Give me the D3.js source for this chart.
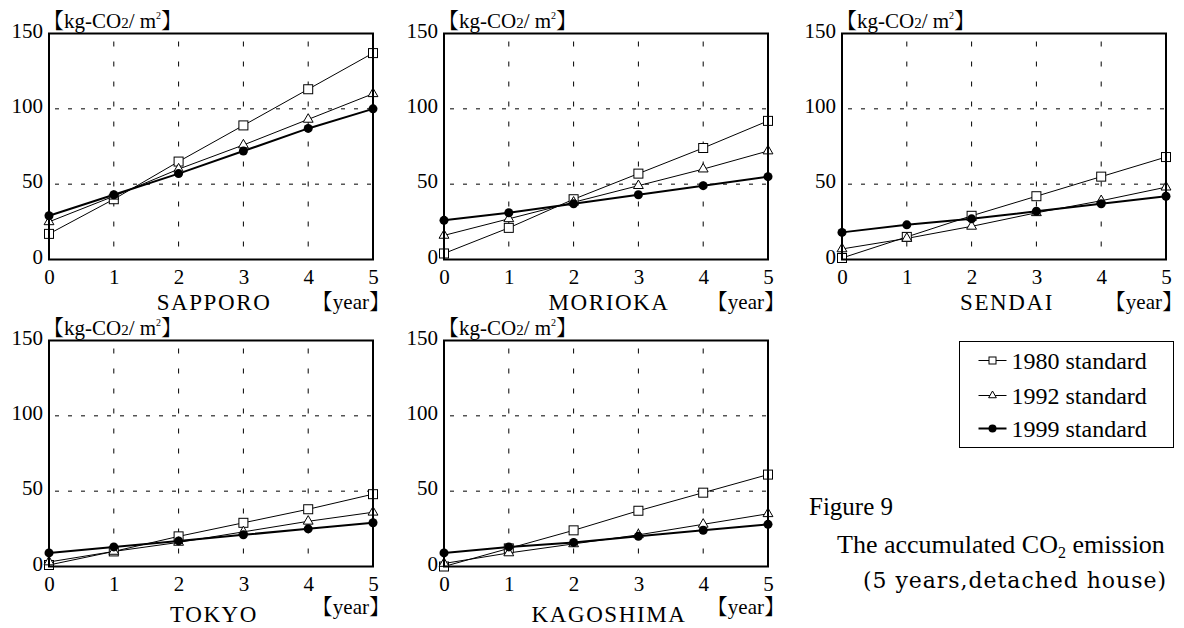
<!DOCTYPE html>
<html>
<head>
<meta charset="utf-8">
<script src="https://cdn.jsdelivr.net/npm/d3@7"></script>
<style>
  body { margin: 0; background: #fff; }
  text { font-family: "Liberation Serif", "Noto Serif CJK JP", "Noto Sans CJK JP", serif; fill: #000; }
</style>
</head>
<body>
<div id="chart"></div>
<script>
// data
var years = [0, 1, 2, 3, 4, 5];
var cities = ["SAPPORO", "MORIOKA", "SENDAI", "TOKYO", "KAGOSHIMA"];
var seriesNames = ["1980 standard", "1992 standard", "1999 standard"];
var yTicks = [0, 50, 100, 150];

var std1980 = [
  [17, 40, 65, 89, 113, 137],
  [4, 21, 40, 57, 74, 92],
  [1, 15, 29, 42, 55, 68],
  [1, 10, 20, 29, 38, 48],
  [0, 12, 24, 37, 49, 61]
];
var std1992 = [
  [25, 42, 60, 76, 93, 110],
  [16, 27, 38, 49, 60, 72],
  [7, 14, 22, 31, 39, 48],
  [3, 10, 16, 23, 30, 36],
  [2, 9, 15, 21, 28, 35]
];
var std1999 = [
  [29, 43, 57, 72, 87, 100],
  [26, 31, 37, 43, 49, 55],
  [18, 23, 27, 32, 37, 42],
  [9, 13, 17, 21, 25, 29],
  [9, 13, 16, 20, 24, 28]
];

var W = 1184, H = 628;
var pw = 324, ph = 226;
var lefts = [49, 444, 842, 49, 444];
var tops = [33.5, 33.5, 33.5, 340.5, 340.5];
var cityDy = [50, 50, 50, 55, 55];
var yearDy = [49, 49, 49, 47, 47];

var svg = d3.select("#chart").append("svg")
    .attr("width", W)
    .attr("height", H);

var x = d3.scaleLinear().domain([0, 5]).range([0, pw]);
var y = d3.scaleLinear().domain([0, 150]).range([ph, 0]);

var line = d3.line()
    .x(function(d, i) { return x(years[i]); })
    .y(function(d) { return y(d); });

var tri = d3.symbol().type(d3.symbolTriangle).size(42);

cities.forEach(function(city, c) {
  var g = svg.append("g")
      .attr("transform", "translate(" + lefts[c] + "," + tops[c] + ")");

  /* dashed grid */
  g.append("g")
      .selectAll("line")
      .data([1, 2, 3, 4])
      .enter().append("line")
      .attr("x1", function(d) { return x(d); })
      .attr("x2", function(d) { return x(d); })
      .attr("y1", 0)
      .attr("y2", ph)
      .attr("stroke", "#000")
      .attr("stroke-width", 1)
      .attr("stroke-dasharray", "5,15")
      .attr("stroke-dashoffset", -8);

  g.append("g")
      .selectAll("line")
      .data([50, 100])
      .enter().append("line")
      .attr("x1", 0)
      .attr("x2", pw)
      .attr("y1", function(d) { return y(d); })
      .attr("y2", function(d) { return y(d); })
      .attr("stroke", "#000")
      .attr("stroke-width", 1)
      .attr("stroke-dasharray", "4,9")
      .attr("stroke-dashoffset", -6);

  /* axes: labels only */
  var ya = g.append("g")
      .attr("transform", "translate(-6,-3)")
      .call(d3.axisLeft(y).tickValues(yTicks).tickFormat(d3.format("d")).tickSize(0).tickPadding(0));
  ya.select(".domain").remove();
  ya.selectAll("text")
      .style("font-family", "Liberation Serif")
      .style("font-size", "21px");

  var xa = g.append("g")
      .attr("transform", "translate(0," + ph + ")")
      .call(d3.axisBottom(x).tickValues(years).tickFormat(d3.format("d")).tickSize(0).tickPadding(10));
  xa.select(".domain").remove();
  xa.selectAll("text")
      .style("font-family", "Liberation Serif")
      .style("font-size", "21px");

  /* series */
  var data = [std1980[c], std1992[c], std1999[c]];
  data.forEach(function(vals, s) {
    g.append("path")
        .datum(vals)
        .attr("d", line)
        .attr("fill", "none")
        .attr("stroke", "#000")
        .attr("stroke-width", s == 2 ? 2 : 1);
  });

  g.selectAll("rect.m1980")
      .data(std1980[c])
      .enter().append("rect")
      .attr("x", function(d, i) { return x(years[i]) - 4.5; })
      .attr("y", function(d) { return y(d) - 4.5; })
      .attr("width", 9)
      .attr("height", 9)
      .attr("fill", "#fff")
      .attr("stroke", "#000")
      .attr("stroke-width", 1);

  g.selectAll("path.m1992")
      .data(std1992[c])
      .enter().append("path")
      .attr("d", tri)
      .attr("transform", function(d, i) { return "translate(" + x(years[i]) + "," + y(d) + ")"; })
      .attr("fill", "#fff")
      .attr("stroke", "#000")
      .attr("stroke-width", 1);

  g.selectAll("circle.m1999")
      .data(std1999[c])
      .enter().append("circle")
      .attr("cx", function(d, i) { return x(years[i]); })
      .attr("cy", function(d) { return y(d); })
      .attr("r", 4.5)
      .attr("fill", "#000");

  /* frame */
  g.append("rect")
      .attr("width", pw)
      .attr("height", ph)
      .attr("fill", "none")
      .attr("stroke", "#000")
      .attr("stroke-width", 2);

  /* unit label */
  var u = g.append("text")
      .attr("x", -6)
      .attr("y", -6)
      .style("font-size", "21px");
  u.append("tspan").text("【kg-CO");
  u.append("tspan").style("font-size", "15px").text("2");
  u.append("tspan").text("/ m");
  u.append("tspan").attr("dy", -9).style("font-size", "10px").text("2");
  u.append("tspan").attr("dy", 9).text("】");

  g.append("text")
      .attr("x", pw / 2 + 3)
      .attr("y", ph + cityDy[c])
      .attr("text-anchor", "middle")
      .style("font-size", "23px")
      .style("letter-spacing", "1.6px")
      .text(city);

  g.append("text")
      .attr("x", pw + 17)
      .attr("y", ph + yearDy[c])
      .attr("text-anchor", "end")
      .style("font-size", "21px")
      .text("【year】");
});

/* legend */
var lg = svg.append("g").attr("transform", "translate(959.5,341.5)");
lg.append("rect")
    .attr("width", 214)
    .attr("height", 106)
    .attr("fill", "#fff")
    .attr("stroke", "#000")
    .attr("stroke-width", 1);

var rowY = [19, 54, 87];
seriesNames.forEach(function(name, s) {
  var r = lg.append("g").attr("transform", "translate(0," + rowY[s] + ")");
  r.append("line")
      .attr("x1", 19).attr("x2", 47)
      .attr("stroke", "#000")
      .attr("stroke-width", s == 2 ? 2 : 1);
  if (s == 0) {
    r.append("rect").attr("x", 29.5).attr("y", -3.5).attr("width", 7).attr("height", 7)
        .attr("fill", "#fff").attr("stroke", "#000");
  } else if (s == 1) {
    r.append("path").attr("d", d3.symbol().type(d3.symbolTriangle).size(26)())
        .attr("transform", "translate(33,0)")
        .attr("fill", "#fff").attr("stroke", "#000");
  } else {
    r.append("circle").attr("cx", 33).attr("r", 4).attr("fill", "#000");
  }
  r.append("text")
      .attr("x", 52)
      .attr("y", 8)
      .style("font-size", "24px")
      .text(name);
});

/* caption */
svg.append("text")
    .attr("x", 809)
    .attr("y", 515)
    .style("font-size", "25px")
    .text("Figure 9");

var cap = svg.append("text")
    .attr("x", 837)
    .attr("y", 553)
    .style("font-size", "26px");
cap.append("tspan").text("The accumulated CO");
cap.append("tspan").attr("dy", 5).style("font-size", "16px").text("2");
cap.append("tspan").attr("dy", -5).text(" emission");

svg.append("text")
    .attr("x", 863)
    .attr("y", 588)
    .attr("textLength", 303)
    .attr("lengthAdjust", "spacing")
    .style("font-family", "DejaVu Serif")
    .style("font-size", "22px")
    .text("(5 years,detached house)");
</script>
</body>
</html>
